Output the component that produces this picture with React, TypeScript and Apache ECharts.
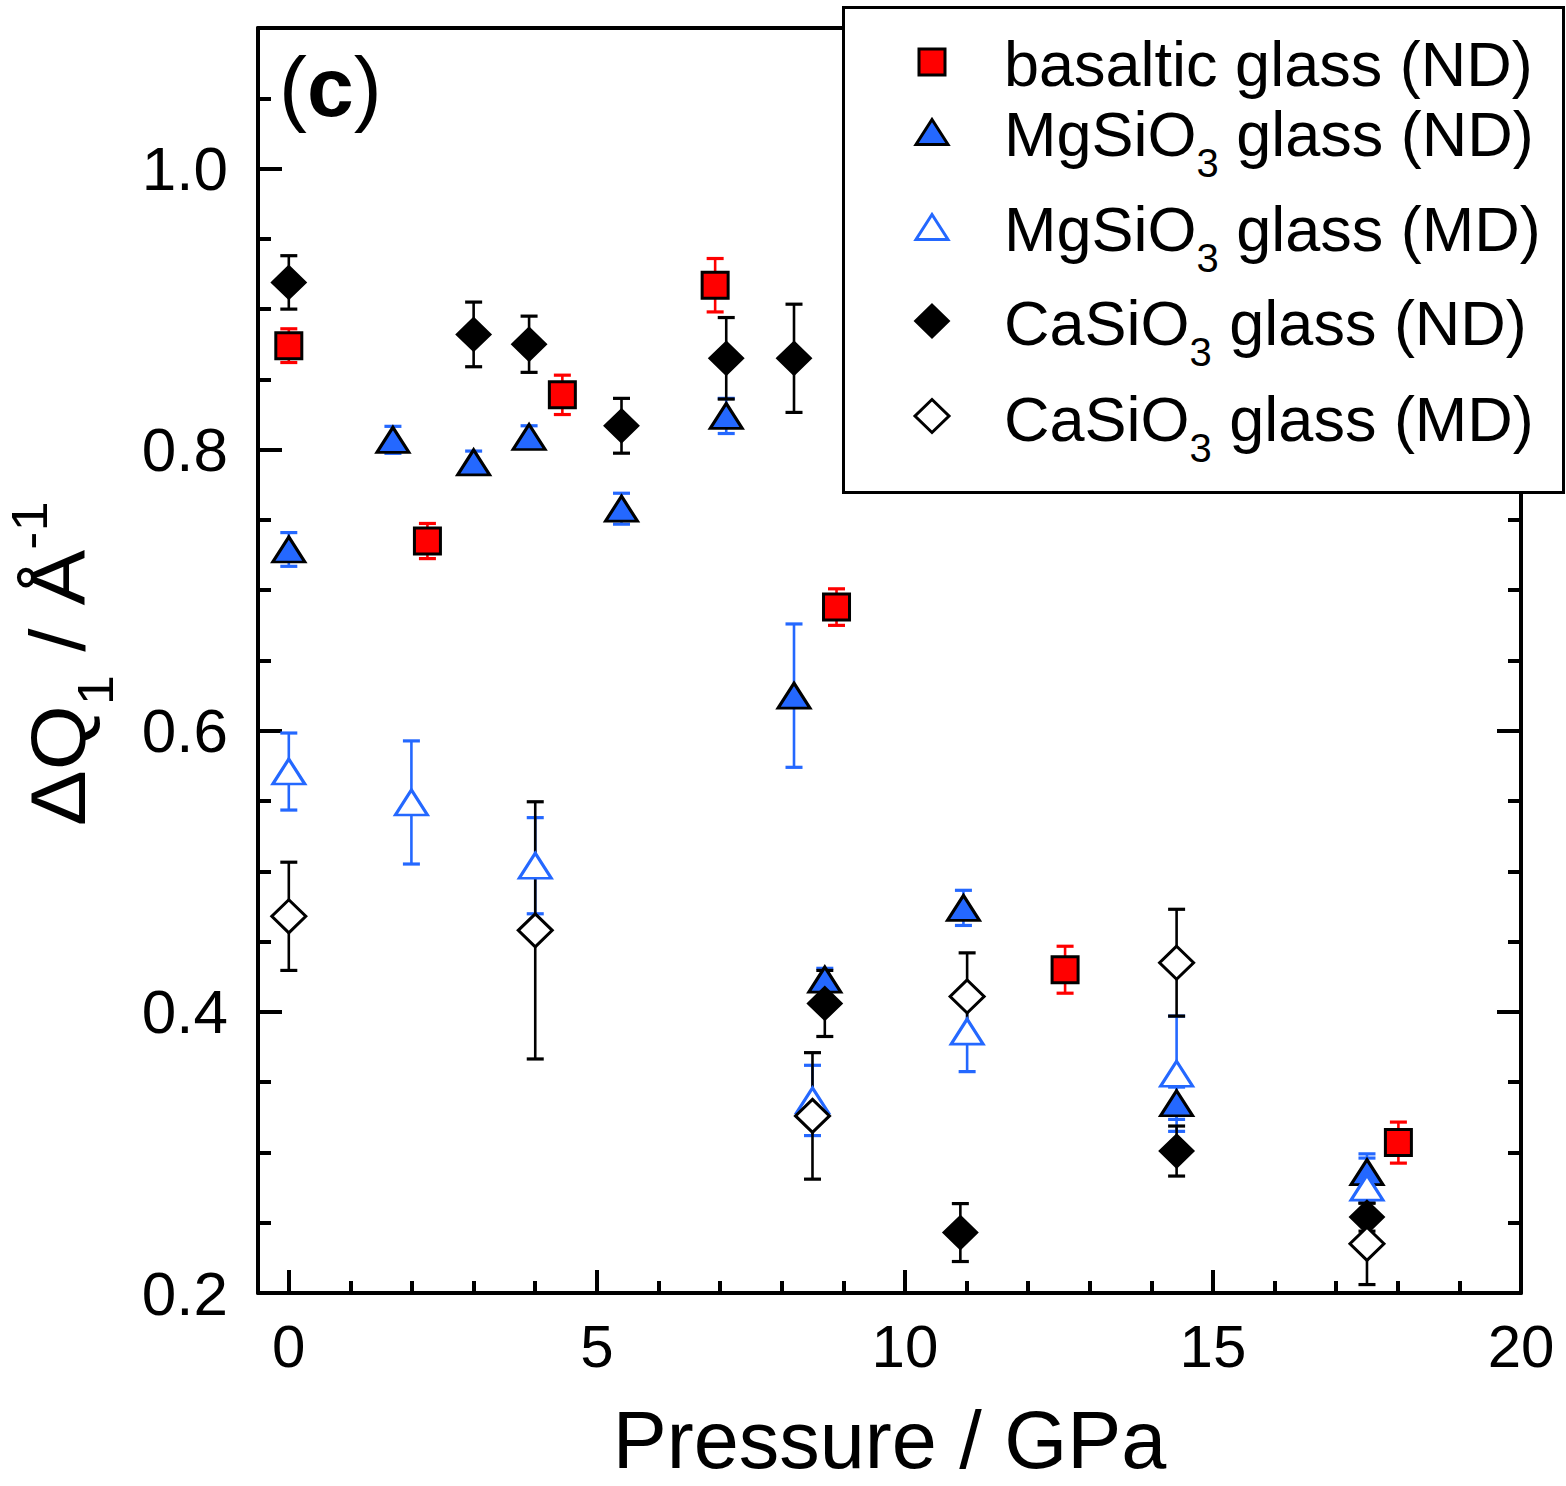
import React, { useEffect, useRef } from "react";
import * as echarts from "echarts";

// ---------------- data ----------------
const seriesNames = [
  "basaltic glass (ND)",
  "MgSiO3 glass (ND)",
  "MgSiO3 glass (MD)",
  "CaSiO3 glass (ND)",
  "CaSiO3 glass (MD)",
];

const basaltP = [0, 2.25, 4.44, 6.92, 8.89, 12.6, 18.01];
const basaltQ = [0.874, 0.735, 0.839, 0.917, 0.688, 0.43, 0.307];
const basaltErr = [0.012, 0.0125, 0.014, 0.019, 0.013, 0.0167, 0.0146];

const mgNdP = [0, 1.69, 3.0, 3.9, 5.4, 7.1, 8.2, 8.7, 10.95, 14.41, 17.5];
const mgNdQ = [0.729, 0.807, 0.791, 0.809, 0.758, 0.824, 0.625, 0.423, 0.474, 0.335, 0.286];
const mgNdErr = [0.012, 0.0096, 0.008, 0.008, 0.011, 0.0125, 0.051, 0.008, 0.0125, 0.0115, 0.01];

const mgMdP = [0, 1.99, 4.0, 8.5, 11.01, 14.41, 17.5];
const mgMdQ = [0.571, 0.549, 0.504, 0.337, 0.386, 0.356, 0.275];
const mgMdErr = [0.0274, 0.0438, 0.0342, 0.025, 0.0285, 0.041, 0.024];

const caNdP = [0, 3.0, 3.9, 5.4, 7.1, 8.2, 8.7, 10.9, 14.41, 17.5];
const caNdQ = [0.919, 0.882, 0.875, 0.817, 0.865, 0.865, 0.406, 0.243, 0.301, 0.254];
const caNdErr = [0.019, 0.023, 0.02, 0.0195, 0.029, 0.0385, 0.0235, 0.0206, 0.0178, 0.01];

const caMdP = [0, 4.0, 8.5, 11.01, 14.41, 17.5];
const caMdQ = [0.468, 0.458, 0.326, 0.411, 0.435, 0.235];
const caMdErr = [0.0385, 0.0915, 0.045, 0.031, 0.038, 0.029];

const xMajorTicks = [0, 5, 10, 15, 20];
const xMinorTicks = [1, 2, 3, 4, 6, 7, 8, 9, 11, 12, 13, 14, 16, 17, 18, 19];
const yMajorTicks = [0.2, 0.4, 0.6, 0.8, 1.0];
const yMinorTicks = [0.25, 0.3, 0.35, 0.45, 0.5, 0.55, 0.65, 0.7, 0.75, 0.85, 0.9, 0.95, 1.05, 1.1];

const xTitle = "Pressure / GPa";
const panelLabel = ["(", "c", ")"];

// ---------------- styles ----------------
const FONT = '"Liberation Sans", Arial, Helvetica, sans-serif';
const RED = "#ff0000";
const BLUE = "#2468ff";
const BLACK = "#000000";
const WHITE = "#ffffff";
const CENTRAL = 0.3465; // central baseline offset (em) above alphabetic baseline

let measureCtx: CanvasRenderingContext2D | null = null;
function tw(text: string, size: number, weight = "normal") {
  if (!measureCtx) measureCtx = document.createElement("canvas").getContext("2d");
  measureCtx!.font = `${weight} ${size}px "Liberation Sans"`;
  return measureCtx!.measureText(text).width;
}

function txt(text: string, x: number, baseline: number, size: number, weight = "normal") {
  return {
    type: "text",
    x,
    y: baseline - CENTRAL * size,
    z: 120,
    silent: true,
    style: {
      text,
      fontSize: size,
      fontFamily: FONT,
      fontWeight: weight,
      fill: BLACK,
      align: "left",
      verticalAlign: "middle",
    },
  };
}

function splitSub(name: string): [string, string, string] | null {
  const m = name.match(/^(.*O)(3)(.*)$/);
  return m ? [m[1], m[2], m[3]] : null;
}

function App() {
  const ref = useRef<HTMLDivElement>(null);

  useEffect(() => {
    const chart = echarts.init(ref.current!, undefined, { renderer: "svg" });

    const groups = [
      { p: basaltP, q: basaltQ, e: basaltErr, symbol: "rect", size: [26, 26], fill: RED, stroke: BLACK, bw: 3, err: RED },
      { p: mgNdP, q: mgNdQ, e: mgNdErr, symbol: "triangle", size: [32, 25], fill: BLUE, stroke: BLACK, bw: 3, err: BLUE },
      { p: mgMdP, q: mgMdQ, e: mgMdErr, symbol: "triangle", size: [32, 25], fill: WHITE, stroke: BLUE, bw: 3, err: BLUE },
      { p: caNdP, q: caNdQ, e: caNdErr, symbol: "diamond", size: [34, 33], fill: BLACK, stroke: BLACK, bw: 2, err: BLACK },
      { p: caMdP, q: caMdQ, e: caMdErr, symbol: "diamond", size: [34, 33], fill: WHITE, stroke: BLACK, bw: 3, err: BLACK },
    ];

    const errSeries = groups.map((g, gi) => ({
      type: "custom",
      name: seriesNames[gi] + " error",
      xAxisIndex: 0,
      yAxisIndex: 0,
      z: 2,
      silent: true,
      data: g.p.map((x, i) => [x, g.q[i], g.e[i]]),
      encode: { x: 0, y: 1 },
      renderItem: (params: any, api: any) => {
        const x = api.value(0);
        const y = api.value(1);
        const e = api.value(2);
        const top = api.coord([x, y + e]);
        const bot = api.coord([x, y - e]);
        const hw = 8.5;
        const stem = { stroke: g.err, lineWidth: 2.6 };
        const cap = { stroke: g.err, lineWidth: 3.2 };
        return {
          type: "group",
          children: [
            { type: "line", shape: { x1: top[0], y1: top[1], x2: bot[0], y2: bot[1] }, style: stem },
            { type: "line", shape: { x1: top[0] - hw, y1: top[1], x2: top[0] + hw, y2: top[1] }, style: cap },
            { type: "line", shape: { x1: bot[0] - hw, y1: bot[1], x2: bot[0] + hw, y2: bot[1] }, style: cap },
          ],
        };
      },
    }));

    const scatterSeries = groups.map((g, gi) => ({
      type: "scatter",
      name: seriesNames[gi],
      xAxisIndex: 0,
      yAxisIndex: 0,
      z: 3,
      symbol: g.symbol,
      symbolSize: g.size,
      itemStyle: { color: g.fill, borderColor: g.stroke, borderWidth: g.bw, opacity: 1 },
      emphasis: { disabled: true },
      data: g.p.map((x, i) => [x, g.q[i]]),
    }));

    // ----- legend (drawn as graphic) -----
    const LX = 932;
    const symY = [62, 132, 227, 321, 416];
    const baseY = [86, 156, 251, 345, 441];
    const textX = 1004;
    const FS = 63;
    const SUB = 40;
    const legendEls: any[] = [
      {
        type: "rect",
        z: 110,
        silent: true,
        shape: { x: 843.5, y: 7.5, width: 720, height: 485 },
        style: { fill: WHITE, stroke: BLACK, lineWidth: 3 },
      },
    ];
    groups.forEach((g, gi) => {
      const cy = symY[gi];
      const st = { fill: g.fill, stroke: g.stroke, lineWidth: g.bw };
      if (g.symbol === "rect") {
        legendEls.push({ type: "rect", z: 120, silent: true, shape: { x: LX - 13, y: cy - 13, width: 26, height: 26 }, style: st });
      } else if (g.symbol === "triangle") {
        legendEls.push({
          type: "polygon", z: 120, silent: true,
          shape: { points: [[LX, cy - 12.5], [LX + 16, cy + 12.5], [LX - 16, cy + 12.5]] },
          style: st,
        });
      } else {
        legendEls.push({
          type: "polygon", z: 120, silent: true,
          shape: { points: [[LX, cy - 16.5], [LX + 17, cy], [LX, cy + 16.5], [LX - 17, cy]] },
          style: st,
        });
      }
      const parts = splitSub(seriesNames[gi]);
      const b = baseY[gi];
      if (!parts) {
        legendEls.push(txt(seriesNames[gi], textX, b, FS));
      } else {
        let x = textX;
        legendEls.push(txt(parts[0], x, b, FS));
        x += tw(parts[0], FS);
        legendEls.push(txt(parts[1], x, b + 21, SUB));
        x += tw(parts[1], SUB);
        legendEls.push(txt(parts[2], x, b, FS));
      }
    });

    // ----- panel label (c) -----
    const panelEls: any[] = [];
    {
      let x = 279;
      const b = 116;
      const fs = 84;
      panelEls.push(txt(panelLabel[0], x, b, fs));
      x += tw(panelLabel[0], fs);
      panelEls.push(txt(panelLabel[1], x, b, fs, "bold"));
      x += tw(panelLabel[1], fs, "bold");
      panelEls.push(txt(panelLabel[2], x, b, fs));
    }

    // ----- y axis title, rotated -----
    const YF = 77;
    const YS = 50;
    const yParts: [string, number, number][] = [
      ["\u0394Q", YF, 0],
      ["1", YS, 28],
      [" / \u00C5", YF, 0],
      ["-1", YS, -38],
    ];
    const yChildren: any[] = [];
    {
      let x = 0;
      yParts.forEach(([t, s, off]) => {
        yChildren.push(txt(t, x, off, s));
        x += tw(t, s);
      });
    }
    const yTitle = {
      type: "group",
      x: 85,
      y: 826,
      rotation: Math.PI / 2,
      scaleX: 1.085,
      z: 120,
      children: yChildren,
    };

    const axisLineStyle = { color: BLACK, width: 4 };
    const tickStyle = { color: BLACK, width: 4 };

    const option: any = {
      animation: false,
      backgroundColor: WHITE,
      grid: { left: 258, right: 45, top: 28, bottom: 193, containLabel: false, outerBoundsMode: "none" },
      xAxis: [
        {
          type: "value",
          position: "bottom",
          min: -0.5,
          max: 20,
          axisLine: { show: true, onZero: false, lineStyle: axisLineStyle },
          axisTick: { show: true, inside: true, length: 23, lineStyle: tickStyle, customValues: xMajorTicks },
          axisLabel: {
            show: true,
            customValues: xMajorTicks,
            margin: 23,
            fontSize: 60,
            fontFamily: FONT,
            color: BLACK,
            formatter: (v: number) => String(v),
          },
          splitLine: { show: false },
          name: xTitle,
          nameLocation: "middle",
          nameGap: 115,
          nameTextStyle: { fontSize: 81, lineHeight: 64, fontFamily: FONT, color: BLACK },
        },
        {
          type: "value",
          position: "bottom",
          min: -0.5,
          max: 20,
          axisLine: { show: false, onZero: false },
          axisTick: { show: true, inside: true, length: 12, lineStyle: tickStyle, customValues: xMinorTicks },
          axisLabel: { show: false },
          splitLine: { show: false },
        },
        {
          type: "value",
          position: "top",
          min: -0.5,
          max: 20,
          axisLine: { show: true, onZero: false, lineStyle: axisLineStyle },
          axisTick: { show: false },
          axisLabel: { show: false },
          splitLine: { show: false },
        },
      ],
      yAxis: [
        {
          type: "value",
          position: "left",
          min: 0.2,
          max: 1.1,
          axisLine: { show: true, onZero: false, lineStyle: axisLineStyle },
          axisTick: { show: true, inside: true, length: 24, lineStyle: tickStyle, customValues: yMajorTicks },
          axisLabel: {
            show: true,
            customValues: yMajorTicks,
            margin: 30,
            fontSize: 62,
            fontFamily: FONT,
            color: BLACK,
            formatter: (v: number) => v.toFixed(1),
          },
          splitLine: { show: false },
        },
        {
          type: "value",
          position: "left",
          min: 0.2,
          max: 1.1,
          axisLine: { show: false, onZero: false },
          axisTick: { show: true, inside: true, length: 13, lineStyle: tickStyle, customValues: yMinorTicks },
          axisLabel: { show: false },
          splitLine: { show: false },
        },
        {
          type: "value",
          position: "right",
          min: 0.2,
          max: 1.1,
          axisLine: { show: true, onZero: false, lineStyle: axisLineStyle },
          axisTick: { show: true, inside: true, length: 24, lineStyle: tickStyle, customValues: yMajorTicks },
          axisLabel: { show: false },
          splitLine: { show: false },
        },
        {
          type: "value",
          position: "right",
          min: 0.2,
          max: 1.1,
          axisLine: { show: false, onZero: false },
          axisTick: { show: true, inside: true, length: 13, lineStyle: tickStyle, customValues: yMinorTicks },
          axisLabel: { show: false },
          splitLine: { show: false },
        },
      ],
      series: [...errSeries, ...scatterSeries],
      graphic: [...legendEls, ...panelEls, yTitle],
    };

    chart.setOption(option);
    return () => chart.dispose();
  }, []);

  return (
    <div
      ref={ref}
      style={{ position: "fixed", left: 0, top: 0, width: 1566, height: 1486, background: "#fff" }}
    />
  );
}

export default App;
